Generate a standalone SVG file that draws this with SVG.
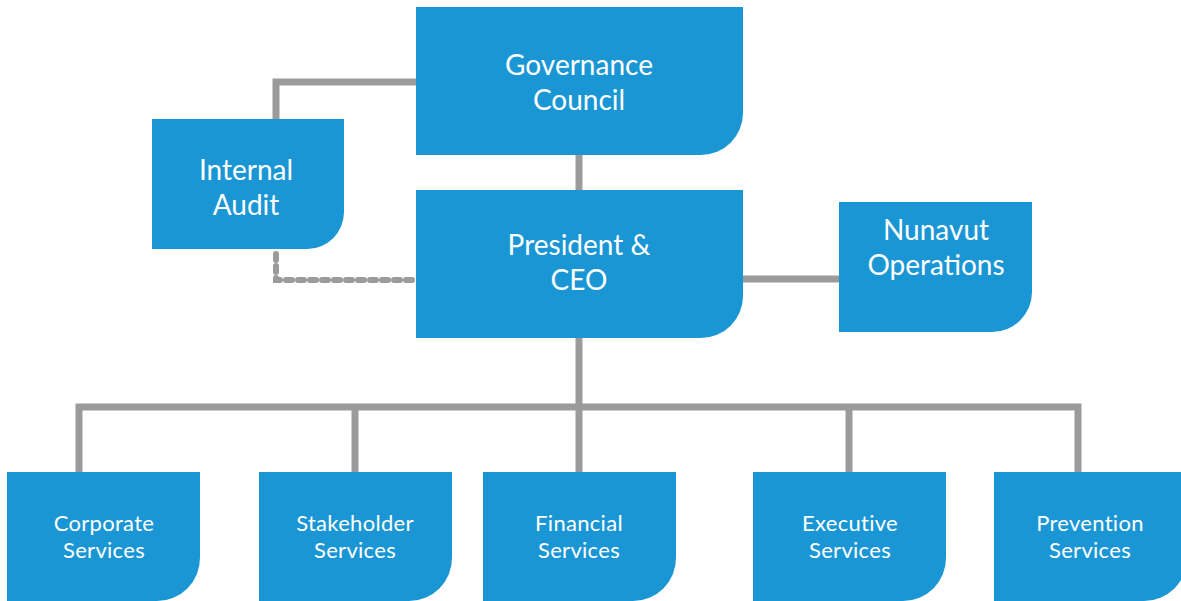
<svg xmlns="http://www.w3.org/2000/svg" width="1181" height="601" viewBox="0 0 1181 601">
<style>
.box{fill:#1a96d5}
.lbl{fill:#ffffff;font-family:Lato,"Open Sans","Liberation Sans",sans-serif;text-anchor:middle}
.big{font-size:28px}
.sm{font-size:22px;letter-spacing:0.3px}
.ln{stroke:#9b9b9b;stroke-width:7;fill:none}
.dash{stroke:#9b9b9b;stroke-width:6;fill:none;stroke-dasharray:6 6;stroke-linecap:round}
</style>
<rect width="1181" height="601" fill="#ffffff"/>
<g id="connectors">
<path class="ln" d="M579,155 V190"/>
<path class="ln" d="M416,82 H276 V119"/>
<path class="dash" d="M276,254 V280 H412"/>
<path class="ln" d="M742,279 H839"/>
<path class="ln" d="M579,338 V407"/>
<path class="ln" d="M79,472 V407 H1078 V472"/>
<path class="ln" d="M355,407 V472"/>
<path class="ln" d="M579,407 V472"/>
<path class="ln" d="M849,407 V472"/>
</g>
<g id="governance">
<path class="box" d="M416,7 H743 V113 A42,42 0 0 1 701,155 H416 Z"/>
<text class="lbl big" x="579" y="75">Governance</text>
<text class="lbl big" x="579" y="110">Council</text>
</g>
<g id="internal-audit">
<path class="box" d="M152,119 H344 V212 A37,37 0 0 1 307,249 H152 Z"/>
<text class="lbl big" x="246" y="180">Internal</text>
<text class="lbl big" x="246" y="215">Audit</text>
</g>
<g id="president">
<path class="box" d="M416,190 H743 V296 A42,42 0 0 1 701,338 H416 Z"/>
<text class="lbl big" x="579" y="255">President &amp;</text>
<text class="lbl big" x="579" y="290">CEO</text>
</g>
<g id="nunavut">
<path class="box" d="M839,202 H1032 V292 A40,40 0 0 1 992,332 H839 Z"/>
<text class="lbl big" x="936" y="240">Nunavut</text>
<text class="lbl big" x="936" y="275">Operations</text>
</g>
<g id="corporate">
<path class="box" d="M7,472 H200 V558 A43,43 0 0 1 157,601 H7 Z"/>
<text class="lbl sm" x="104" y="531">Corporate</text>
<text class="lbl sm" x="104" y="558">Services</text>
</g>
<g id="stakeholder">
<path class="box" d="M259,472 H452 V558 A43,43 0 0 1 409,601 H259 Z"/>
<text class="lbl sm" x="355" y="531">Stakeholder</text>
<text class="lbl sm" x="355" y="558">Services</text>
</g>
<g id="financial">
<path class="box" d="M483,472 H676 V558 A43,43 0 0 1 633,601 H483 Z"/>
<text class="lbl sm" x="579" y="531">Financial</text>
<text class="lbl sm" x="579" y="558">Services</text>
</g>
<g id="executive">
<path class="box" d="M753,472 H946 V558 A43,43 0 0 1 903,601 H753 Z"/>
<text class="lbl sm" x="850" y="531">Executive</text>
<text class="lbl sm" x="850" y="558">Services</text>
</g>
<g id="prevention">
<path class="box" d="M994,472 H1187 V558 A43,43 0 0 1 1144,601 H994 Z"/>
<text class="lbl sm" x="1090" y="531">Prevention</text>
<text class="lbl sm" x="1090" y="558">Services</text>
</g>
</svg>
